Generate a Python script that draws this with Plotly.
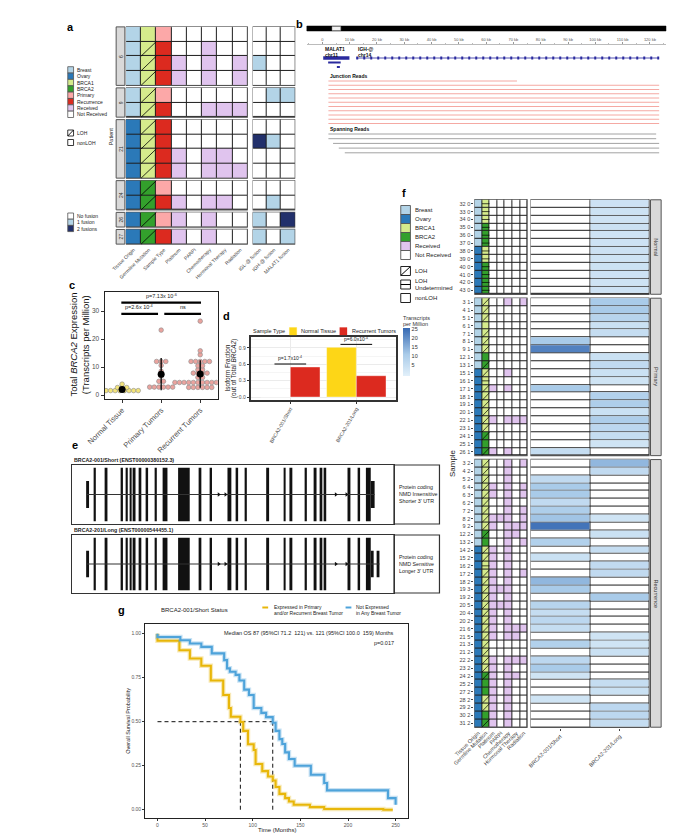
import plotly.graph_objects as go
import numpy as np

W, H = 688, 837
FONT = "Liberation Sans, Arial, sans-serif"

# ======================= DATA =======================
# ---- panel a : patient level clinical grid ----
a_patient = [6, 6, 6, 6, 9, 9, 21, 21, 21, 21, 24, 24, 26, 27]
a_tissue = ["Breast", "Breast", "Breast", "Breast", "Breast", "Breast", "Ovary",
            "Ovary", "Ovary", "Ovary", "Ovary", "Ovary", "Ovary", "Ovary"]
a_germline = ["BRCA1", "BRCA1", "BRCA1", "BRCA1", "BRCA1", "BRCA1", "BRCA1",
              "BRCA1", "BRCA1", "BRCA1", "BRCA2", "BRCA2", "BRCA2", "BRCA2"]
a_loh = ["nonLOH", "LOH", "LOH", "LOH", "LOH", "LOH", "LOH",
         "LOH", "LOH", "LOH", "LOH", "LOH", "LOH", "LOH"]
a_sample_type = ["Primary", "Recurrence", "Recurrence", "Recurrence", "Primary", "Recurrence",
                 "Recurrence", "Recurrence", "Recurrence", "Recurrence", "Primary",
                 "Recurrence", "Primary", "Recurrence"]
a_platinum = "NNRRNNNNRRNRRR"
a_parpi = "NNNNNNNNNNNNNN"
a_chemo = "NRRRNRNNRRNRRR"
a_hormonal = "NNNNNRNNRRNRNN"
a_radiation = "NNRRNRNNNRNNNN"
a_igl_fusion = [0, 0, 1, 0, 0, 0, 0, 2, 0, 0, 0, 0, 1, 1]
a_igh_fusion = [0, 0, 0, 0, 1, 0, 0, 1, 0, 0, 0, 1, 0, 0]
a_malat1_fusion = [0, 0, 0, 0, 1, 0, 0, 0, 0, 0, 0, 0, 2, 1]
a_columns = ["Tissue Origin", "Germline Mutation", "Sample Type", "Platinum", "PARPi",
             "Chemotherapy", "Hormonal Therapy", "Radiation"]
a_fusion_columns = ["IGL-@ fusion", "IGH-@ fusion", "MALAT1 fusion"]

# ---- panel b : fusion reads (kb) ----
b_gene = ["MALAT1", "IGH-@"]
b_chrom = ["chr11", "chr14"]
b_gene_start = [0.3, 12.4]
b_gene_end = [9.9, 123.4]
b_malat1_tx_start = [2.1, 5.3]
b_malat1_tx_end = [6.7, 6.4]
b_junction_start = [2.2, 2.2, 2.2, 2.2, 2.2, 2.2, 2.2, 2.2, 2.2, 2.2, 2.2]
b_junction_end = [71.3, 123.4, 123.4, 123.4, 123.4, 123.4, 123.4, 123.4, 123.4, 123.4, 123.4]
b_spanning_start = [2.2, 2.2, 3.9, 6.0, 8.2]
b_spanning_end = [122.3, 122.3, 123.4, 123.4, 123.4]
b_ruler_ticks = [0, 10, 20, 30, 40, 50, 60, 70, 80, 90, 100, 110, 120]

# ---- panel c : total BRCA2 expression (TPM) ----
c_groups = ["Normal Tissue", "Primary Tumors", "Recurrent Tumors"]
c_normal = [1.2, 1.2, 1.3, 1.3, 1.4, 1.4, 2.0, 2.0, 2.6, 2.7, 2.8, 3.9]
c_primary = [2.6, 2.7, 2.8, 2.9, 3.0, 3.1, 4.8, 5.0, 6.8, 8.5, 10.6, 11.9, 12.0, 12.1, 23.2]
c_recurrent = [26.4, 15.8, 14.4, 12.2, 12.0, 12.0, 11.9, 11.8, 10.5, 10.4, 9.1, 9.0, 8.0,
               7.9, 7.8, 7.7, 6.4, 6.2, 4.9, 4.8, 4.8, 4.7, 4.6, 4.5, 4.4, 4.3, 4.3, 4.2,
               4.2, 4.1, 2.9, 2.8, 2.8, 2.7, 2.7, 2.6]
c_sig_pairs = [(1, 3), (1, 2), (2, 3)]
c_sig_y = [33, 29, 29]
c_sig_text = ["p=7.13x 10<sup>-6</sup>", "p=2.6x 10<sup>-4</sup>", "ns"]

# ---- panel d : isoform fraction ----
d_isoform = ["BRCA2-001/Short", "BRCA2-201/Long"]
d_normal = [0.0, 0.91]
d_recurrent = [0.55, 0.39]
d_pvalue = ["p=1.7x10<sup>-4</sup>", "p=6.0x10<sup>-4</sup>"]

# ---- panel e : transcript structures (plot units along gene) ----
e_exon_start = [15, 23, 35, 51, 56, 60, 64, 70, 77, 86, 94, 110, 132, 143, 161, 170, 179,
                201, 219, 225, 241, 251, 257, 261, 285, 296, 304]
e_exon_end = [18, 25, 37, 53, 58, 62, 66, 72, 79, 88, 99, 122, 134, 145, 165, 172, 181,
              204, 221, 228, 243, 253, 259, 263, 288, 298, 309]
e_short_utr = [(309, 313)]
e_long_utr = [(309, 312), (316, 318)]
e_arrows = [152, 159, 273, 284]
e_titles = ["BRCA2-001/Short (ENST00000380152.3)", "BRCA2-201/Long (ENST00000544455.1)"]
e_notes = [["Protein coding", "NMD Insensitive", "Shorter 3' UTR"],
           ["Protein coding", "NMD Sensitive", "Longer 3' UTR"]]

# ---- panel f : sample level grid ----
f_group = ["Normal"] * 12 + ["Primary"] * 20 + ["Recurrence"] * 34
f_sample = ["32 0", "33 0", "34 0", "35 0", "36 0", "37 0", "38 0", "39 0", "40 0", "41 0", "42 0", "43 0",
            "3 1", "4 1", "5 1", "6 1", "7 1", "8 1", "9 1", "12 1", "13 1", "15 1", "16 1", "17 1",
            "18 1", "19 1", "20 1", "22 1", "23 1", "24 1", "25 1", "26 1",
            "3 2", "4 2", "5 2", "6 4", "6 3", "6 2", "7 2", "8 2", "9 2", "12 2", "13 2", "14 2",
            "15 2", "16 2", "17 2", "18 2", "19 3", "19 2", "20 5", "20 4", "20 2", "21 6", "21 5",
            "21 3", "21 2", "22 2", "23 2", "24 2", "25 2", "27 2", "28 2", "29 2", "30 2", "31 2"]
f_tissue = "BBBBBBOOOOOO" + "BBBBBBBBBOOOOOOOOOOO" + "BBBBBBBBBBBOOOOOOOOOOOOOOOOOOOOOOO"
f_germline = "111222112222" + "11111112211111111222" + "111111111" + "22" + "1111111111111111" + "2221122"
f_loh = "UUUUUUUUUUUU" + "LLLNLLLNLLULLLLLLLNL" + "LLLLLLLLL" + "LN" + "LLU" + "LLLLLLLLLLLLLL" + "NNLLNL"
f_platinum = "NNNNNNNNNNNN" + "NNNNNNNNNNNRNNNRNNNR" + "NNNRRNNRRNN" + "RRRRRRRRRRRR" + "NN" + "RRRRRRRRR"
f_parpi = "NNNNNNNNNNNN" + "NNNNNNNNNNNNNNNNNNNN" + "NNNNNNNRNNNNNNNNRNRNNNNNNNNNNNNNNN"
f_chemo = "NNNNNNNNNNNN" + "RNNNNNNNNRNRNNNRNNNR" + "RRRRRRRRRRRRRRRRRRRRRRR" + "NN" + "RRRRRRRRR"
f_hormonal = "NNNNNNNNNNNN" + "NNNNNNNNNNNNNNNRNNNN" + "NNNNNNNNRRNNNNNNNNNNNRRNNRNRNNNNNN"
f_radiation = "NNNNNNNNNNNN" + "RNNNNNNNNNNNNNNRNNNN" + "RNNRRNRRRNRNNNRNNNNNNRNNNRNNNNNNNN"
f_short_tpm = ([None] * 12 +
               [None, None, None, None, None, 11, 22, None, None, None, None, 11, None, None,
                None, None, None, None, None, 5] +
               [None, None, 6, 11, 11, 6, 10, 12, 24, None, 9, None, 4, None, None, 14, 11,
                None, 8, 5, 7, 5, None, 9, None, 7, 11, 3, None, None, 3, None, None, None])
f_long_tpm = ([3.4, 3.6, 3.2, 3.8, 3.3, 3.5, 3.7, 3.1, 3.6, 3.4, 3.2, 3.5] +
              [11, 11, 8, 4, 5, None, None, 4, 6, 4, 3, None, 9, 10, 4, 10, 7, 5, 3, None] +
              [14, 6, None, None, None, None, None, 3, None, 4, None, 5, None, 6, 6, None, None,
               11, None, None, None, None, 3, 3, 4, None, None, None, 5, 4, None, 7, 7, 5])
f_columns = ["Tissue Origin", "Germline Mutation", "Platinum", "PARPi", "Chemotherapy",
             "Hormonal Therapy", "Radiation"]
f_tpm_columns = ["BRCA2-001/Short", "BRCA2-201/Long"]

# ---- panel g : Kaplan-Meier ----
g_time_expressed = [0, 0, 23, 34, 46, 56, 69, 75, 77, 87, 90, 95, 101, 103, 110, 116, 121, 124,
                    128, 134, 138, 143, 160, 175, 237, 247]
g_surv_expressed = [1.0, 0.96, 0.906, 0.859, 0.818, 0.734, 0.652, 0.578, 0.528, 0.498, 0.448,
                    0.372, 0.339, 0.26, 0.219, 0.189, 0.166, 0.129, 0.09, 0.066, 0.047, 0.028,
                    0.015, 0.004, 0.0, 0.0]
g_time_not = [0, 0, 24, 34, 46, 57, 70, 73, 76, 82, 86, 91, 96, 101, 109, 114, 121, 124, 128,
              131, 134, 138, 144, 161, 175, 178, 242, 250]
g_surv_not = [1.0, 0.981, 0.963, 0.944, 0.925, 0.888, 0.85, 0.803, 0.784, 0.766, 0.734, 0.682,
              0.652, 0.578, 0.55, 0.526, 0.494, 0.448, 0.401, 0.373, 0.326, 0.288, 0.25, 0.199,
              0.152, 0.11, 0.066, 0.028]
g_medians = [87, 121]
g_labels = [["Expressed in Primary", "and/or Recurrent Breast Tumor"],
            ["Not Expressed", "in Any Breast Tumor"]]

# ======================= STYLE =======================
CAT = {"Not Received": 0, "Received": 1, "Breast": 2, "Ovary": 3, "BRCA1": 4, "BRCA2": 5,
       "Primary": 6, "Recurrence": 7}
CAT_COLORS = ["#ffffff", "#e0c4ee", "#b3d4e7", "#2b79b8", "#d5eb8c", "#33a02c", "#fca8a8", "#dc2a1f"]
FUS_COLORS = ["#ffffff", "#b3d4e7", "#22306b"]
TREAT = {"R": "Received", "N": "Not Received"}
TISSUE = {"B": "Breast", "O": "Ovary"}
GERM = {"1": "BRCA1", "2": "BRCA2"}
LOHMAP = {"L": "LOH", "U": "Undetermined", "N": "nonLOH"}
YEL, RED = "#fdd617", "#dc2a1f"
KM_COL = ["#e8b70a", "#4ea3da"]


def discrete_scale(colors):
    n = len(colors)
    out = []
    for i, c in enumerate(colors):
        out += [[i / n, c], [(i + 1) / n, c]]
    return out


fig = go.Figure()
layout = dict(width=W, height=H, margin=dict(l=0, r=0, t=0, b=0), paper_bgcolor="white",
              plot_bgcolor="white", showlegend=False, barmode="overlay",
              font=dict(family=FONT, size=6, color="#222"))
shapes, annotations = [], []


def set_axes(n, xpx, ypx, xkw=None, ykw=None):
    s = "" if n == 1 else str(n)
    base = dict(showgrid=False, zeroline=False, showline=False, ticks="", showticklabels=False,
                fixedrange=True)
    xa = dict(base)
    xa.update(domain=[xpx[0] / W, xpx[1] / W], anchor="y" + s)
    xa.update(xkw or {})
    ya = dict(base)
    ya.update(domain=[1 - ypx[1] / H, 1 - ypx[0] / H], anchor="x" + s)
    ya.update(ykw or {})
    layout["xaxis" + s] = xa
    layout["yaxis" + s] = ya
    return "x" + s, "y" + s


def ann(x, y, text, size=6, xanchor="left", yanchor="middle", color="#222", **kw):
    annotations.append(dict(x=x / W, y=1 - y / H, xref="paper", yref="paper", text=text,
                            showarrow=False, xanchor=xanchor, yanchor=yanchor,
                            font=dict(size=size, color=color, family=FONT), **kw))


def prect(x0, y0, x1, y1, fill, line="#333", lw=0.8):
    shapes.append(dict(type="rect", xref="paper", yref="paper", x0=x0 / W, x1=x1 / W,
                       y0=1 - y1 / H, y1=1 - y0 / H, fillcolor=fill, line=dict(color=line, width=lw)))


def pline(x0, y0, x1, y1, color="#000", lw=1, dash="solid"):
    shapes.append(dict(type="line", xref="paper", yref="paper", x0=x0 / W, x1=x1 / W,
                       y0=1 - y0 / H, y1=1 - y1 / H, line=dict(color=color, width=lw, dash=dash)))


def facets(keys, gap):
    out, top, i = [], 0.0, 0
    while i < len(keys):
        j = i
        while j < len(keys) and keys[j] == keys[i]:
            j += 1
        out.append((i, j, top))
        top += (j - i) + gap
        i = j
    return out, top - gap


def add_grid(xr, yr, keys, columns, gap, cs, zmin, zmax, underlay=False, colorbar=None):
    facs, total = facets(keys, gap)
    ncol = len(columns)
    xe = [c - 0.5 for c in range(ncol + 1)]
    row_top = {}
    for k, (i0, i1, top) in enumerate(facs):
        ye = [top + j for j in range(i1 - i0 + 1)]
        z = [[columns[c][r] for c in range(ncol)] for r in range(i0, i1)]
        for r in range(i0, i1):
            row_top[r] = top + (r - i0)
        shapes.append(dict(type="rect", xref=xr, yref=yr, x0=-0.5, x1=ncol - 0.5, y0=top,
                           y1=top + (i1 - i0), fillcolor="#1e1e1e",
                           line=dict(color="#555", width=1.4), layer="below"))
        if underlay:
            fig.add_trace(go.Heatmap(x=xe, y=ye, z=[[0] * ncol for _ in z],
                                     colorscale=[[0, "#ffffff"], [1, "#ffffff"]], showscale=False,
                                     xgap=1, ygap=1, xaxis=xr, yaxis=yr, hoverinfo="skip"))
        fig.add_trace(go.Heatmap(x=xe, y=ye, z=z, colorscale=cs, zmin=zmin, zmax=zmax,
                                 showscale=(colorbar is not None and k == 0),
                                 colorbar=colorbar if colorbar is not None else {},
                                 xgap=1, ygap=1, xaxis=xr, yaxis=yr, hoverinfo="skip"))
    return facs, total, row_top


def loh_marks(xr, yr, loh, row_top, col, lw=0.8):
    xs, ys = [], []
    for r, v in enumerate(loh):
        t = row_top[r]
        if v == "LOH":
            xs += [col - 0.5, col + 0.5, None]
            ys += [t + 1, t, None]
        elif v == "Undetermined":
            xs += [col - 0.5, col + 0.5, None]
            ys += [t + 0.5, t + 0.5, None]
    fig.add_trace(go.Scatter(x=xs, y=ys, mode="lines", line=dict(color="#000", width=lw),
                             xaxis=xr, yaxis=yr, hoverinfo="skip"))


TICKF = dict(size=5, color="#444", family=FONT)

# ======================= PANEL A =======================
a_codes = [[CAT[v] for v in a_tissue], [CAT[v] for v in a_germline],
           [CAT[v] for v in a_sample_type]] + \
          [[CAT[TREAT[v]] for v in col] for col in (a_platinum, a_parpi, a_chemo, a_hormonal, a_radiation)]
a_fus = [a_igl_fusion, a_igh_fusion, a_malat1_fusion]
A_GAP = 0.17
A_PAD = 0.06
A_Y = (18, 237)
_, a_total = facets(a_patient, A_GAP)
xa1, ya1 = set_axes(1, (99, 225), A_Y,
                    dict(range=[-0.5, 7.5], tickvals=list(range(8)), ticktext=a_columns,
                         showticklabels=True, tickangle=-45, tickfont=TICKF),
                    dict(range=[a_total + A_PAD, -A_PAD]))
a_facs, _, a_rowtop = add_grid(xa1, ya1, a_patient, a_codes, A_GAP, discrete_scale(CAT_COLORS),
                               -0.5, len(CAT_COLORS) - 0.5)
loh_marks(xa1, ya1, a_loh, a_rowtop, 1)
xa2, ya2 = set_axes(2, (230, 274), A_Y,
                    dict(range=[-0.5, 2.5], tickvals=[0, 1, 2], ticktext=a_fusion_columns,
                         showticklabels=True, tickangle=-45, tickfont=TICKF),
                    dict(range=[a_total + A_PAD, -A_PAD]))
add_grid(xa2, ya2, a_patient, a_fus, A_GAP, discrete_scale(FUS_COLORS), -0.5, 2.5)


def a_ypx(v):
    return A_Y[0] + (v + A_PAD) / (a_total + 2 * A_PAD) * (A_Y[1] - A_Y[0])


for (i0, i1, top) in a_facs:
    shapes.append(dict(type="rect", xref="paper", yref=ya1, x0=89 / W, x1=98 / W, y0=top,
                       y1=top + (i1 - i0), fillcolor="#d9d9d9", line=dict(color="#555", width=1)))
    ann(93.8, a_ypx(top + (i1 - i0) / 2), str(a_patient[i0]), 5, xanchor="center",
        textangle=-90, color="#333")
ann(84, 128, "Patient", 5.5, xanchor="center", textangle=-90)

# legends for a
leg_a = ["Breast", "Ovary", "BRCA1", "BRCA2", "Primary", "Recurrence", "Received", "Not Received"]
for i, name in enumerate(leg_a):
    y0 = 58.7 + i * 6.35
    prect(39, y0, 45, y0 + 6.35, CAT_COLORS[CAT[name]], "#555", 0.8)
    ann(46.5, y0 + 3.2, name, 5)
prect(39, 122, 45, 128, "#fff", "#222", 0.9)
pline(39, 128, 45, 122, "#000", 0.9)
ann(46.5, 125, "LOH", 5)
prect(39, 131.5, 45, 137.5, "#fff", "#222", 0.9)
ann(46.5, 134.5, "nonLOH", 5)
for i, name in enumerate(["No fusion", "1 fusion", "2 fusions"]):
    y0 = 205 + i * 6.2
    prect(39, y0, 45, y0 + 6.2, FUS_COLORS[i], "#555", 0.8)
    ann(46.5, y0 + 3.1, name, 5)

# ======================= PANEL B =======================
xb, yb = set_axes(4, (286, 657), (37, 150),
                  dict(range=[-5.7, 125.9], side="top", showline=True, linecolor="#bbbbbb",
                       linewidth=0.6, ticks="outside", ticklen=2, tickcolor="#999", tickwidth=0.5,
                       tickvals=b_ruler_ticks, showticklabels=True,
                       ticktext=["0"] + [f"{t} kb" for t in b_ruler_ticks[1:]],
                       tickfont=dict(size=4, color="#555", family=FONT),
                       minor=dict(ticks="outside", ticklen=1, tickcolor="#bbb", dtick=5)),
                  dict(range=[150, 37]))
prect(286, 18, 657, 23, "#000", "#000", 0.5)
prect(312, 18.5, 321, 22.5, "#f2f2f2", "#888", 0.5)
for gi in range(len(b_gene)):
    annotations.append(dict(x=b_gene_start[gi], y=40.5, xref=xb, yref=yb, text=f"<b>{b_gene[gi]}</b>",
                            showarrow=False, xanchor="left", font=dict(size=5, color="#111", family=FONT)))
    annotations.append(dict(x=b_gene_start[gi], y=46.6, xref=xb, yref=yb, text=f"<b>{b_chrom[gi]}</b>",
                            showarrow=False, xanchor="left", font=dict(size=5, color="#111", family=FONT)))
fig.add_trace(go.Scatter(x=[b_gene_start[0], b_gene_end[0]], y=[50, 50], mode="lines",
                         line=dict(color="#2a2a9e", width=3.5), xaxis=xb, yaxis=yb, hoverinfo="skip"))
fig.add_trace(go.Scatter(x=[b_gene_start[1], b_gene_end[1]], y=[50, 50], mode="lines",
                         line=dict(color="#2a2a9e", width=0.8), xaxis=xb, yaxis=yb, hoverinfo="skip"))
fig.add_trace(go.Scatter(x=[b_gene_start[1], b_gene_end[1]], y=[50, 50], mode="lines",
                         line=dict(color="#2a2a9e", width=3, dash="2px,5px"), xaxis=xb, yaxis=yb,
                         hoverinfo="skip"))
for k in range(len(b_malat1_tx_start)):
    fig.add_trace(go.Scatter(x=[b_malat1_tx_start[k], b_malat1_tx_end[k]], y=[54.5 + 4.5 * k] * 2,
                             mode="lines", line=dict(color="#2a2a9e", width=2.2), xaxis=xb, yaxis=yb,
                             hoverinfo="skip"))
annotations.append(dict(x=b_junction_start[0], y=68, xref=xb, yref=yb, text="<b>Junction Reads</b>",
                        showarrow=False, xanchor="left", font=dict(size=5, color="#111", family=FONT)))
annotations.append(dict(x=b_spanning_start[0], y=121, xref=xb, yref=yb, text="<b>Spanning Reads</b>",
                        showarrow=False, xanchor="left", font=dict(size=5, color="#111", family=FONT)))
jx, jy = [], []
for i in range(len(b_junction_start)):
    jx += [b_junction_start[i], b_junction_end[i], None]
    jy += [73 + 4.25 * i] * 2 + [None]
fig.add_trace(go.Scatter(x=jx, y=jy, mode="lines", line=dict(color="#f3938c", width=0.8),
                         xaxis=xb, yaxis=yb, hoverinfo="skip"))
sx, sy = [], []
for i in range(len(b_spanning_start)):
    sx += [b_spanning_start[i], b_spanning_end[i], None]
    sy += [126 + 4.7 * i] * 2 + [None]
fig.add_trace(go.Scatter(x=sx, y=sy, mode="lines", line=dict(color="#8a8a8a", width=0.8),
                         xaxis=xb, yaxis=yb, hoverinfo="skip"))

# ======================= PANEL C =======================
xc, yc = set_axes(5, (77, 194), (284, 391),
                  dict(range=[0.55, 3.45], tickvals=[1, 2, 3], ticktext=c_groups, showticklabels=True,
                       tickangle=-45, ticks="outside", ticklen=3, tickcolor="#333",
                       tickfont=dict(size=7.5, color="#4d4d4d", family=FONT),
                       showline=True, mirror=True, linecolor="#222", linewidth=1),
                  dict(range=[-1.4, 36.8], tickvals=[0, 10, 20, 30], showticklabels=True,
                       ticks="outside", ticklen=3, tickcolor="#333",
                       tickfont=dict(size=6.5, color="#4d4d4d", family=FONT),
                       showline=True, mirror=True, linecolor="#222", linewidth=1))


def dot_positions(vals, center, binw, dx):
    v = sorted(vals)
    xs, ys, i = [], [], 0
    while i < len(v):
        j = i
        while j < len(v) and v[j] - v[i] < binw:
            j += 1
        grp = v[i:j]
        ycen = (grp[0] + grp[-1]) / 2
        for m in range(len(grp)):
            xs.append(center + (m - (len(grp) - 1) / 2) * dx)
            ys.append(ycen)
        i = j
    return xs, ys


c_fill = ["#f2e37a", "#eaa39e", "#eaa39e"]
for gi, vals in enumerate([c_normal, c_primary, c_recurrent]):
    xs, ys = dot_positions(vals, gi + 1, 0.9, 0.118)
    fig.add_trace(go.Scatter(x=xs, y=ys, mode="markers",
                             marker=dict(size=4.6, color=c_fill[gi], line=dict(color="#8c8c8c", width=0.6)),
                             xaxis=xc, yaxis=yc, hoverinfo="skip"))
c_means = [float(np.mean(v)) for v in (c_normal, c_primary, c_recurrent)]
c_sds = [float(np.std(v, ddof=1)) for v in (c_normal, c_primary, c_recurrent)]
fig.add_trace(go.Scatter(x=[1, 2, 3], y=c_means, mode="markers", marker=dict(size=7, color="#000"),
                         error_y=dict(type="data", array=c_sds, color="#000", thickness=1.3, width=0),
                         xaxis=xc, yaxis=yc, hoverinfo="skip"))
for (g1, g2), yy, txt in zip(c_sig_pairs, c_sig_y, c_sig_text):
    x0 = g1 - 0.02 if g1 == 1 else g1 + 0.08
    x1 = g2 + 0.02 if g2 == 3 else g2 - 0.08
    fig.add_trace(go.Scatter(x=[x0, x1], y=[yy, yy], mode="lines", line=dict(color="#000", width=2.4),
                             xaxis=xc, yaxis=yc, hoverinfo="skip"))
    annotations.append(dict(x=(x0 + x1) / 2, y=yy + 0.6, xref=xc, yref=yc, text=txt, showarrow=False,
                            yanchor="bottom", font=dict(size=5.5, color="#222", family=FONT)))
ann(44, 337, "Total <i>BRCA2</i> Expression", 9.5, xanchor="center", textangle=-90, color="#111")
ann(57, 337, "(Transcripts per Million)", 9.5, xanchor="center", textangle=-90, color="#111")

# ======================= PANEL D =======================
xd, yd = set_axes(6, (228, 378), (329, 392),
                  dict(range=[0.4, 2.6], tickvals=[1, 2], ticktext=d_isoform, showticklabels=True,
                       tickangle=-60, ticks="outside", ticklen=2, tickcolor="#333",
                       tickfont=dict(size=5, color="#4d4d4d", family=FONT), showgrid=True,
                       gridcolor="#ebebeb", gridwidth=0.8,
                       showline=True, mirror=True, linecolor="#333", linewidth=2),
                  dict(range=[-0.055, 1.1], tickvals=[0, 0.3, 0.6, 0.9],
                       ticktext=["0.0", "0.3", "0.6", "0.9"], showticklabels=True, ticks="outside",
                       ticklen=2, tickcolor="#333", tickfont=dict(size=5, color="#4d4d4d", family=FONT),
                       showgrid=True, gridcolor="#ebebeb", gridwidth=0.8,
                       minor=dict(showgrid=True, gridcolor="#f5f5f5", tickvals=[0.15, 0.45, 0.75, 1.05]),
                       showline=True, mirror=True, linecolor="#333", linewidth=2))
fig.add_trace(go.Bar(x=[1, 2], y=d_normal, width=0.45, offset=-0.45,
                     marker=dict(color=YEL, line=dict(color="#fff", width=0.4)),
                     xaxis=xd, yaxis=yd, hoverinfo="skip"))
fig.add_trace(go.Bar(x=[1, 2], y=d_recurrent, width=0.45, offset=0.0,
                     marker=dict(color=RED, line=dict(color="#fff", width=0.4)),
                     xaxis=xd, yaxis=yd, hoverinfo="skip"))
for i in range(2):
    top = max(d_normal[i], d_recurrent[i]) + 0.055
    fig.add_trace(go.Scatter(x=[i + 1 - 0.24, i + 1 + 0.24], y=[top, top], mode="lines",
                             line=dict(color="#000", width=1), xaxis=xd, yaxis=yd, hoverinfo="skip"))
    annotations.append(dict(x=i + 1, y=top + 0.01, xref=xd, yref=yd, text=d_pvalue[i], showarrow=False,
                            yanchor="bottom", font=dict(size=5, color="#222", family=FONT)))
ann(203, 360, "Isoform Fraction", 6.5, xanchor="center", textangle=-90)
ann(211, 360, "(out of Total <i>BRCA2</i>)", 6.5, xanchor="center", textangle=-90)
ann(228, 323, "Sample Type", 5.5)
prect(268, 319.5, 275.5, 327, YEL, YEL, 0.3)
ann(278, 323, "Normal Tissue", 5.5)
prect(320, 319.5, 327.5, 327, RED, RED, 0.3)
ann(330.5, 323, "Recurrent Tumors", 5.5)

# ======================= PANEL E =======================
for k, (ypx, utrs) in enumerate([((457, 516), e_short_utr), ((527, 585), e_long_utr)]):
    n = 7 + k
    xe_, ye_ = set_axes(n, (43, 376), ypx,
                        dict(range=[0, 333], showline=True, mirror=True, linecolor="#333", linewidth=1.2),
                        dict(range=[-1.1, 1.1], showline=True, mirror=True, linecolor="#333", linewidth=1.2))
    gene_end = max(u[1] for u in utrs)
    fig.add_trace(go.Scatter(x=[e_exon_start[0], gene_end], y=[0, 0], mode="lines",
                             line=dict(color="#333", width=1.2), xaxis=xe_, yaxis=ye_, hoverinfo="skip"))
    cen = [(a + b) / 2 for a, b in zip(e_exon_start[1:], e_exon_end[1:])]
    wid = [b - a for a, b in zip(e_exon_start[1:], e_exon_end[1:])]
    fig.add_trace(go.Bar(x=cen, y=[2] * len(cen), base=[-1] * len(cen), width=wid,
                         marker=dict(color="#111", line=dict(width=0)), xaxis=xe_, yaxis=ye_, hoverinfo="skip"))
    half = [(e_exon_start[0], e_exon_end[0])] + list(utrs)
    fig.add_trace(go.Bar(x=[(a + b) / 2 for a, b in half], y=[1] * len(half), base=[-0.5] * len(half),
                         width=[b - a for a, b in half], marker=dict(color="#111", line=dict(width=0)),
                         xaxis=xe_, yaxis=ye_, hoverinfo="skip"))
    fig.add_trace(go.Scatter(x=e_arrows, y=[0] * len(e_arrows), mode="markers",
                             marker=dict(symbol="triangle-right", size=4, color="#111"),
                             xaxis=xe_, yaxis=ye_, hoverinfo="skip"))
    prect(376, ypx[0], 423, ypx[1], "rgba(0,0,0,0)", "#333", 1.2)
    mid = (ypx[0] + ypx[1]) / 2
    for li, line in enumerate(e_notes[k]):
        ann(379.5, mid + (li - 1) * 7, line, 5.3)
    ann(43, ypx[0] - 5, f"<b>{e_titles[k]}</b>", 5.3)

# ======================= PANEL F =======================
f_codes = [[CAT[TISSUE[v]] for v in f_tissue], [CAT[GERM[v]] for v in f_germline]] + \
          [[CAT[TREAT[v]] for v in col] for col in (f_platinum, f_parpi, f_chemo, f_hormonal, f_radiation)]
F_GAP = 0.5
F_PAD = 0.1
F_Y = (191, 720)
_, f_total = facets(f_group, F_GAP)
xf1, yf1 = set_axes(10, (459, 514), F_Y,
                    dict(range=[-0.5, 6.5], tickvals=list(range(7)), ticktext=f_columns, showticklabels=True,
                         tickangle=-45, tickfont=dict(size=5.5, color="#444", family=FONT)),
                    dict(range=[f_total + F_PAD, -F_PAD]))
f_facs, _, f_rowtop = add_grid(xf1, yf1, f_group, f_codes, F_GAP, discrete_scale(CAT_COLORS),
                               -0.5, len(CAT_COLORS) - 0.5)
layout["yaxis10"].update(tickvals=[f_rowtop[r] + 0.5 for r in range(len(f_sample))],
                         ticktext=[s.replace(" ", "\u00a0") for s in f_sample], showticklabels=True,
                         ticks="outside", ticklen=2, tickcolor="#444",
                         tickfont=dict(size=5.5, color="#444", family=FONT))
loh_marks(xf1, yf1, [LOHMAP[v] for v in f_loh], f_rowtop, 1, lw=0.7)
TPM_SCALE = [[0, "#e2f0fa"], [0.45, "#a9cbe9"], [1, "#3669b3"]]
xf2, yf2 = set_axes(11, (517, 640), F_Y,
                    dict(range=[-0.5, 1.5], tickvals=[0, 1], ticktext=f_tpm_columns, showticklabels=True,
                         tickangle=-45, ticks="outside", ticklen=2, tickcolor="#444",
                         tickfont=dict(size=5.5, color="#444", family=FONT)),
                    dict(range=[f_total + F_PAD, -F_PAD]))
add_grid(xf2, yf2, f_group, [f_short_tpm, f_long_tpm], F_GAP, TPM_SCALE, -1, 25.6, underlay=True,
         colorbar=dict(x=385 / W, xanchor="left", y=1 - 368 / H, yanchor="bottom", len=48,
                       lenmode="pixels", thickness=7, outlinewidth=0, tickvals=[5, 10, 15, 20, 25],
                       ticks="", tickfont=dict(size=5.5, color="#333", family=FONT), xpad=0, ypad=0))
ann(383, 309.5, "Transcripts", 5.5, color="#333")
ann(383, 316.5, "per Million", 5.5, color="#333")


def f_ypx(v):
    return F_Y[0] + (v + F_PAD) / (f_total + 2 * F_PAD) * (F_Y[1] - F_Y[0])


for (i0, i1, top) in f_facs:
    shapes.append(dict(type="rect", xref="paper", yref=yf1, x0=641 / W, x1=652 / W, y0=top,
                       y1=top + (i1 - i0), fillcolor="#d9d9d9", line=dict(color="#555", width=1)))
    ann(646.5, f_ypx(top + (i1 - i0) / 2), f_group[i0], 5.5, xanchor="center", textangle=90,
        color="#333")
ann(436, 455, "Sample", 8, xanchor="center", textangle=-90, color="#222")
leg_f = ["Breast", "Ovary", "BRCA1", "BRCA2", "Received", "Not Received"]
for i, name in enumerate(leg_f):
    y0 = 197.5 + i * 9
    prect(383, y0, 393, y0 + 9, CAT_COLORS[CAT[name]], "#555", 0.9)
    ann(396, y0 + 4.5, name, 6)
prect(383, 258.5, 393, 267.5, "#fff", "#222", 1)
pline(383, 267.5, 393, 258.5, "#000", 1)
ann(396, 263, "LOH", 6)
prect(383, 272, 393, 281, "#fff", "#222", 1)
pline(383, 276.5, 393, 276.5, "#000", 1)
ann(396, 273.2, "LOH", 6)
ann(396, 280.2, "Undetermined", 6)
prect(383, 285.5, 393, 294.5, "#fff", "#222", 1)
ann(396, 290, "nonLOH", 6)

# ======================= PANEL G =======================
xg, yg = set_axes(9, (119, 391), (616, 810),
                  dict(range=[-12.9, 263.5], tickvals=[0, 50, 100, 150, 200, 250], showticklabels=True,
                       ticks="outside", ticklen=2, tickcolor="#333",
                       tickfont=dict(size=5, color="#555", family=FONT),
                       showline=True, mirror=True, linecolor="#222", linewidth=1.1),
                  dict(range=[-0.047, 1.055], tickvals=[0, 0.25, 0.5, 0.75, 1.0],
                       ticktext=["0.00", "0.25", "0.50", "0.75", "1.00"], showticklabels=True,
                       ticks="outside", ticklen=2, tickcolor="#333",
                       tickfont=dict(size=5, color="#555", family=FONT),
                       showline=True, mirror=True, linecolor="#222", linewidth=1.1))
fig.add_trace(go.Scatter(x=[0, max(g_medians)], y=[0.5, 0.5], mode="lines",
                         line=dict(color="#111", width=1, dash="4px,3px"), xaxis=xg, yaxis=yg, hoverinfo="skip"))
for m in g_medians:
    fig.add_trace(go.Scatter(x=[m, m], y=[0, 0.5], mode="lines",
                             line=dict(color="#111", width=1, dash="4px,3px"), xaxis=xg, yaxis=yg,
                             hoverinfo="skip"))
for k, (tt, ss) in enumerate([(g_time_expressed, g_surv_expressed), (g_time_not, g_surv_not)]):
    fig.add_trace(go.Scatter(x=tt, y=ss, mode="lines", line=dict(color=KM_COL[k], width=4.5, shape="hv"),
                             opacity=0.3, xaxis=xg, yaxis=yg, hoverinfo="skip"))
    fig.add_trace(go.Scatter(x=tt, y=ss, mode="lines", line=dict(color=KM_COL[k], width=2.1, shape="hv"),
                             xaxis=xg, yaxis=yg, hoverinfo="skip"))
ann(378, 625, "Median OS 87 (95%CI 71.2  121) vs. 121 (95%CI 100.0  159) Months", 5.5, xanchor="right")
ann(378, 634.5, "p=0.017", 5.5, xanchor="right")
ann(101, 713, "Overall Survival Probability", 5.5, xanchor="center", textangle=-90)
ann(255, 822, "Time (Months)", 6, xanchor="center")
ann(133, 602, "BRCA2-001/Short Status", 6)
pline(240, 599.5, 246, 599.5, KM_COL[0], 2)
ann(250, 599, g_labels[0][0], 5)
ann(250, 605, g_labels[0][1], 5)
pline(326, 599.5, 332, 599.5, KM_COL[1], 2)
ann(335, 599, g_labels[1][0], 5)
ann(335, 605, g_labels[1][1], 5)

# ======================= PANEL LABELS =======================
for lab, x, y in [("a", 42, 19), ("b", 278, 16), ("c", 43, 277), ("d", 203, 308), ("e", 47, 437),
                  ("f", 386, 185), ("g", 95, 602)]:
    ann(x, y, f"<b>{lab}</b>", 11, xanchor="center", color="#000")

layout["shapes"] = shapes
layout["annotations"] = annotations
fig.update_layout(**layout)
fig.write_html("out.html")
